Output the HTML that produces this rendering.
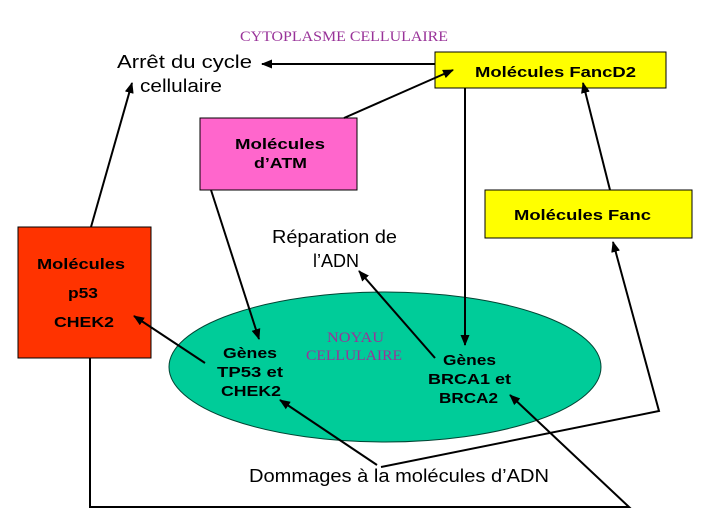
<!DOCTYPE html>
<html><head><meta charset="utf-8"><style>
html,body{margin:0;padding:0;background:#fff;}
svg{display:block;}
.b{font-family:"Liberation Sans",Arial,sans-serif;font-weight:bold;font-size:15px;fill:#000;}
.c{font-family:"Liberation Sans",Arial,sans-serif;font-size:18px;fill:#000;}
.p{font-family:"Liberation Serif","Times New Roman",serif;font-size:15px;fill:#993399;}
</style></head><body>
<svg width="706" height="530" viewBox="0 0 706 530" xmlns="http://www.w3.org/2000/svg">
<defs>
<marker id="a" markerWidth="11" markerHeight="9" refX="10" refY="4.5" orient="auto" markerUnits="userSpaceOnUse">
<path d="M0,0 L11,4.5 L0,9 Z" fill="#000"/>
</marker>
</defs>
<rect width="706" height="530" fill="#fff"/>

<!-- ellipse -->
<ellipse cx="385" cy="367" rx="216" ry="75" fill="#00cc99" stroke="#004433" stroke-width="1"/>

<!-- boxes -->
<rect x="435" y="52" width="231" height="36" fill="#ffff00" stroke="#000" stroke-width="1"/>
<rect x="200" y="118" width="157" height="72" fill="#ff66cc" stroke="#000" stroke-width="1"/>
<rect x="485" y="190" width="207" height="48" fill="#ffff00" stroke="#000" stroke-width="1"/>
<rect x="18" y="227" width="133" height="131" fill="#ff3300" stroke="#000" stroke-width="1"/>

<!-- lines -->
<g stroke="#000" stroke-width="2" fill="none">
<line x1="435" y1="64" x2="262" y2="64" marker-end="url(#a)"/>
<line x1="344" y1="118" x2="453" y2="70" marker-end="url(#a)"/>
<line x1="91" y1="227" x2="132" y2="83" marker-end="url(#a)"/>
<line x1="211" y1="190" x2="259" y2="339" marker-end="url(#a)"/>
<line x1="465" y1="88" x2="465" y2="345" marker-end="url(#a)"/>
<line x1="610" y1="190" x2="583" y2="83" marker-end="url(#a)"/>
<polyline points="381,467 659,411 613,242" marker-end="url(#a)"/>
<line x1="205" y1="363" x2="134" y2="316" marker-end="url(#a)"/>
<line x1="435" y1="358" x2="359" y2="271" marker-end="url(#a)"/>
<line x1="377" y1="465" x2="280" y2="400" marker-end="url(#a)"/>
<polyline points="90,358 90,507 629,507 510,395" marker-end="url(#a)"/>
</g>

<!-- text -->
<text class="p" x="240" y="41" textLength="208" lengthAdjust="spacingAndGlyphs">CYTOPLASME CELLULAIRE</text>
<text class="c" x="117" y="68" textLength="135" lengthAdjust="spacingAndGlyphs">Arrêt du cycle</text>
<text class="c" x="140" y="92" textLength="82" lengthAdjust="spacingAndGlyphs">cellulaire</text>

<text class="b" x="475" y="77" textLength="161" lengthAdjust="spacingAndGlyphs">Molécules FancD2</text>
<text class="b" x="235" y="149" textLength="90" lengthAdjust="spacingAndGlyphs">Molécules</text>
<text class="b" x="254" y="168" textLength="53" lengthAdjust="spacingAndGlyphs">d’ATM</text>
<text class="b" x="514" y="220" textLength="137" lengthAdjust="spacingAndGlyphs">Molécules Fanc</text>
<text class="b" x="37" y="269" textLength="88" lengthAdjust="spacingAndGlyphs">Molécules</text>
<text class="b" x="68" y="298" textLength="30" lengthAdjust="spacingAndGlyphs">p53</text>
<text class="b" x="54" y="327" textLength="60" lengthAdjust="spacingAndGlyphs">CHEK2</text>

<text class="c" x="272" y="243" textLength="125" lengthAdjust="spacingAndGlyphs">Réparation de</text>
<text class="c" x="336" y="267" text-anchor="middle">l’ADN</text>

<text class="p" x="327" y="342" textLength="57" lengthAdjust="spacingAndGlyphs">NOYAU</text>
<text class="p" x="306" y="360" textLength="96" lengthAdjust="spacingAndGlyphs">CELLULAIRE</text>

<text class="b" x="223" y="358" textLength="54" lengthAdjust="spacingAndGlyphs">Gènes</text>
<text class="b" x="217" y="377" textLength="66" lengthAdjust="spacingAndGlyphs">TP53 et</text>
<text class="b" x="221" y="396" textLength="60" lengthAdjust="spacingAndGlyphs">CHEK2</text>

<text class="b" x="443" y="365" textLength="53" lengthAdjust="spacingAndGlyphs">Gènes</text>
<text class="b" x="428" y="384" textLength="83" lengthAdjust="spacingAndGlyphs">BRCA1 et</text>
<text class="b" x="439" y="403" textLength="59" lengthAdjust="spacingAndGlyphs">BRCA2</text>

<text class="c" x="249" y="482" textLength="300" lengthAdjust="spacingAndGlyphs">Dommages à la molécules d’ADN</text>
</svg>
</body></html>
